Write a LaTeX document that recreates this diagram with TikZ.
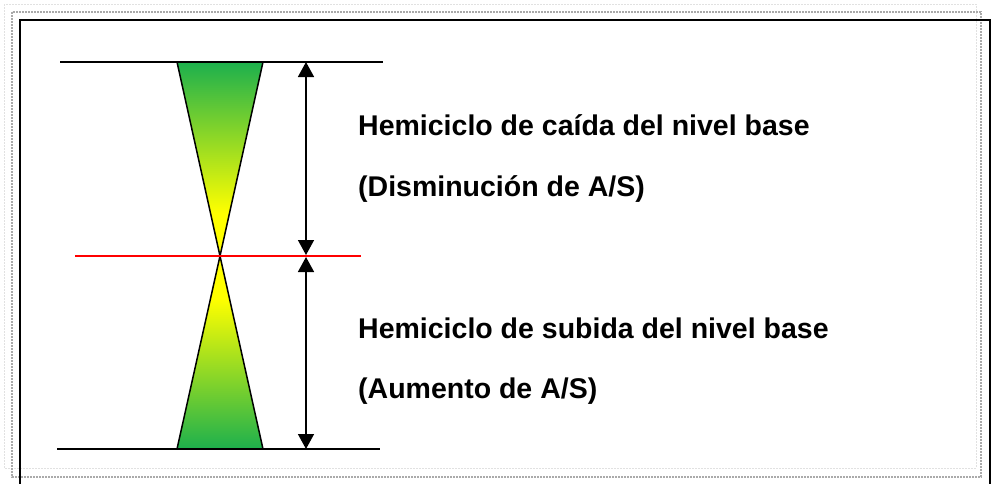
\documentclass[tikz,border=0pt]{standalone}
\usepackage{fontspec}
\setmainfont{Liberation Sans}
\usetikzlibrary{arrows.meta}
\definecolor{hgreen}{RGB}{29,176,77}
\definecolor{hyellow}{RGB}{255,255,0}
\definecolor{framelight}{RGB}{225,225,225}
\definecolor{framedark}{RGB}{170,170,170}
\pgfdeclareverticalshading{coneup}{100bp}{color(0bp)=(hyellow); color(36bp)=(hyellow); color(75bp)=(hgreen); color(100bp)=(hgreen)}
\pgfdeclareverticalshading{conedown}{100bp}{color(0bp)=(hgreen); color(25bp)=(hgreen); color(64bp)=(hyellow); color(100bp)=(hyellow)}
\tikzset{
  labeltext/.style={anchor=base west, inner sep=0pt, font=\fontsize{28.5}{30}\selectfont\bfseries},
  levelline/.style={line width=1.5pt, black},
  dimarrow/.style={line width=1.5pt, {Triangle[width=16pt,length=15pt]}-{Triangle[width=16pt,length=15pt]}},
  halfcone/.style={draw=black, line width=1.5pt, line join=miter},
}
\begin{document}
\begin{tikzpicture}[x=1pt,y=-1pt]
\useasboundingbox (0,0) rectangle (991,483);
\clip (0,0) rectangle (991,483);
% frames
\draw[framelight, line width=1pt, dash pattern=on 2pt off 1pt] (4,4) rectangle (976,468);
\draw[framedark, line width=1.5pt, dash pattern=on 2pt off 1pt] (12,12) rectangle (981,477);
\draw[black, line width=2pt] (20,20) rectangle (990,495);
% coordinates
\coordinate (tl) at (177,62);
\coordinate (tr) at (263,62);
\coordinate (apex) at (220,256);
\coordinate (bl) at (177,449);
\coordinate (br) at (263,449);
% cones
\shade[shading=coneup] (tl) -- (tr) -- (apex) -- cycle;
\shade[shading=conedown] (bl) -- (br) -- (apex) -- cycle;
\draw[halfcone] (tl) -- (tr) -- (apex) -- cycle;
\draw[halfcone] (bl) -- (br) -- (apex) -- cycle;
% level lines
\coordinate (topL) at (60,62);
\coordinate (topR) at (383,62);
\coordinate (botL) at (57,449);
\coordinate (botR) at (380,449);
\coordinate (redL) at (75,256);
\coordinate (redR) at (361,256);
\draw[levelline] (topL) -- (topR);
\draw[levelline] (botL) -- (botR);
\draw[red, line width=1.5pt] (redL) -- (redR);
% arrows
\coordinate (aTop) at (306,62);
\coordinate (aMidU) at (306,255);
\coordinate (aMidD) at (306,257);
\coordinate (aBot) at (306,449);
\draw[dimarrow] (aTop) -- (aMidU);
\draw[dimarrow] (aMidD) -- (aBot);
% texts
\node[labeltext] (t1) at (358,135) {Hemiciclo de caída del nivel base};
\node[labeltext] (t2) at (358,196) {(Disminución de A/S)};
\node[labeltext] (t3) at (358,338) {Hemiciclo de subida del nivel base};
\node[labeltext] (t4) at (358,398) {(Aumento de A/S)};
\end{tikzpicture}
\end{document}
